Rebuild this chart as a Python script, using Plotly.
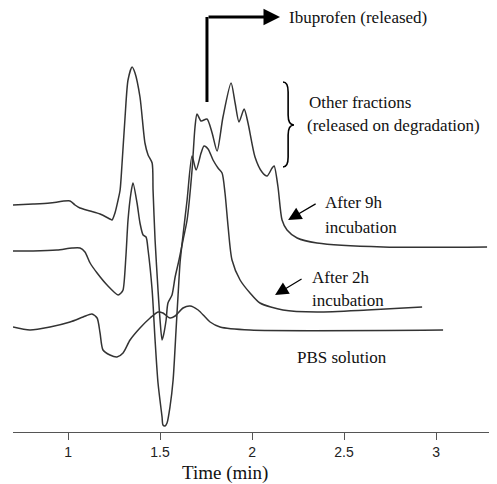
import plotly.graph_objects as go

# ---- data (time in min, detector signal in arbitrary units) ----
t_9h = [0.701, 0.810, 0.902, 1.011, 1.038, 1.065, 1.120, 1.174, 1.228, 1.239, 1.255, 1.272, 1.283,
        1.293, 1.310, 1.326, 1.348, 1.364, 1.391, 1.418, 1.435, 1.457, 1.462, 1.473, 1.489, 1.500,
        1.511, 1.519, 1.533, 1.543, 1.565, 1.582, 1.603, 1.625, 1.647, 1.674, 1.690, 1.701, 1.723,
        1.755, 1.783, 1.810, 1.842, 1.886, 1.908, 1.929, 1.957, 1.978, 2.016, 2.054, 2.082, 2.109,
        2.120, 2.141, 2.163, 2.190, 2.245, 2.353, 2.712, 3.277]
s_9h = [227, 228, 229, 231, 227, 224, 221, 218, 213, 212, 219, 232, 242,
        267, 315, 352, 365, 359, 335, 289, 277, 269, 242, 192, 142, 112,
        92, 97, 112, 129, 137, 155, 172, 192, 212, 262, 305, 318, 311,
        313, 299, 281, 315, 349, 329, 310, 323, 309, 275, 260, 256, 264,
        266, 245, 212, 202, 194, 189, 185, 185]

t_2h = [0.701, 0.810, 0.940, 1.022, 1.065, 1.092, 1.120, 1.158, 1.212, 1.272, 1.288, 1.299, 1.315,
        1.326, 1.342, 1.353, 1.375, 1.391, 1.408, 1.424, 1.435, 1.457, 1.473, 1.489, 1.511, 1.516,
        1.527, 1.538, 1.554, 1.571, 1.587, 1.598, 1.609, 1.625, 1.647, 1.674, 1.696, 1.723, 1.739,
        1.761, 1.788, 1.815, 1.837, 1.853, 1.870, 1.891, 1.935, 1.989, 2.043, 2.168, 2.353, 2.625,
        2.924]
s_2h = [181, 181, 182, 184, 184, 180, 169, 159, 147, 137, 139, 142, 177,
        212, 239, 249, 229, 209, 197, 195, 182, 142, 92, 49, 15, 7,
        6, 9, 25, 52, 102, 137, 170, 197, 232, 276, 262, 279, 286,
        283, 272, 264, 259, 239, 205, 172, 152, 139, 129, 122, 120, 122,
        125]

t_pbs = [0.701, 0.793, 0.902, 1.011, 1.082, 1.130, 1.158, 1.174, 1.190, 1.228, 1.266, 1.299, 1.337,
         1.391, 1.446, 1.489, 1.516, 1.554, 1.582, 1.625, 1.663, 1.707, 1.745, 1.772, 1.826, 1.989,
         3.038]
s_pbs = [105, 102, 105, 110, 115, 118, 114, 99, 82, 77, 75, 79, 92,
         104, 114, 120, 119, 114, 116, 124, 126, 122, 115, 110, 105, 102,
         102]

tick_vals = [1, 1.5, 2, 2.5, 3]
tick_text = ["1", "1.5", "2", "2.5", "3"]

LINE = "#333333"
SERIF = "Liberation Serif, Times New Roman, serif"

fig = go.Figure()
for name, tx, sy in [("After 9h incubation", t_9h, s_9h),
                     ("After 2h incubation", t_2h, s_2h),
                     ("PBS solution", t_pbs, s_pbs)]:
    fig.add_trace(go.Scatter(x=tx, y=sy, mode="lines", name=name,
                             line=dict(color=LINE, width=1.5, shape="spline", smoothing=0.7),
                             hoverinfo="x+y+name"))

annots = []
def txt(x, y, s):
    annots.append(dict(x=x, y=y, xref="x", yref="y", text=s, showarrow=False,
                       xanchor="left", yanchor="middle",
                       font=dict(family=SERIF, size=17, color="#111")))

txt(2.190, 415, "Ibuprofen (released)")
txt(2.299, 330, "Other fractions")
txt(2.288, 307, "(released on degradation)")
txt(2.386, 230, "After 9h")
txt(2.386, 205, "incubation")
txt(2.315, 155, "After 2h")
txt(2.315, 132, "incubation")
txt(2.234, 75, "PBS solution")

def arrow(x, y, ax, ay, w, size):
    annots.append(dict(x=x, y=y, xref="x", yref="y", ax=ax, ay=ay, text="",
                       showarrow=True, arrowhead=2, arrowsize=size, arrowwidth=w,
                       arrowcolor="#000"))

arrow(2.196, 212, 29, -17, 1.2, 2.2)
arrow(2.125, 137, 28, -17, 1.2, 2.2)
arrow(2.152, 415, -73, 0, 3, 1.1)

# axis title placed as text below the axis (not centred in the reference)
annots.append(dict(x=(225 - 13) / 484, y=-41 / 424, xref="paper", yref="paper",
                   text="Time (min)", showarrow=False, xanchor="center", yanchor="middle",
                   font=dict(family=SERIF, size=19, color="#111")))

shapes = [
    dict(type="line", xref="x", yref="y", x0=1.755, y0=415, x1=1.755, y1=330,
         line=dict(color="#000", width=3)),
    dict(type="path", xref="x", yref="y",
         path="M 2.168,350 Q 2.196,350 2.196,340 L 2.196,317 Q 2.196,307 2.228,307 "
              "Q 2.196,307 2.196,297 L 2.196,275 Q 2.196,265 2.168,265",
         line=dict(color="#000", width=1.6)),
]

# the page body adds an 8 px margin, so the figure is 8 px smaller on each side
fig.update_layout(
    width=489, height=476,
    margin=dict(l=5, r=0, t=0, b=52),
    paper_bgcolor="white", plot_bgcolor="white",
    showlegend=False,
    annotations=annots,
    shapes=shapes,
    xaxis=dict(range=[0.701, 3.331], tickvals=tick_vals, ticktext=tick_text,
               showline=True, linecolor="#555", linewidth=1.2,
               ticks="outside", ticklen=7, tickcolor="#555", tickwidth=1.2,
               showgrid=False, zeroline=False,
               tickfont=dict(family="Liberation Sans, Arial, sans-serif", size=14, color="#222")),
    yaxis=dict(range=[0, 424], visible=False, showgrid=False, zeroline=False),
)

fig.write_html("out.html")
